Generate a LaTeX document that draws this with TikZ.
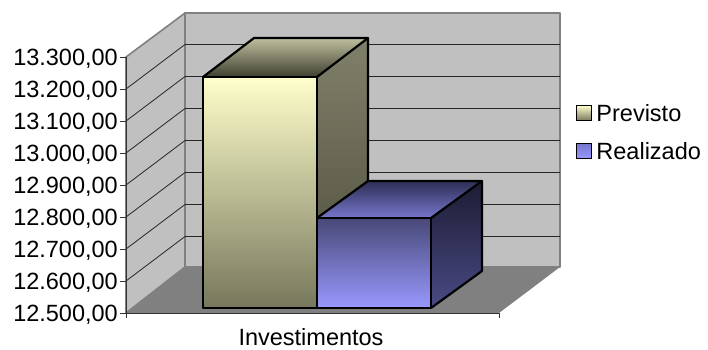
\documentclass[tikz,border=0pt]{standalone}
\usepackage{fontspec}
\setmainfont{Liberation Sans}
\usetikzlibrary{positioning}
\definecolor{wallgray}{RGB}{192,192,192}
\definecolor{edgegray}{RGB}{128,128,128}
\definecolor{prevlight}{RGB}{255,255,204}
\definecolor{prevmid}{RGB}{200,200,162}
\definecolor{prevdark}{RGB}{119,119,92}
\definecolor{prevtopback}{RGB}{191,191,159}
\definecolor{prevtopfront}{RGB}{63,63,48}
\definecolor{prevsidetop}{RGB}{128,128,106}
\definecolor{prevsidebot}{RGB}{75,75,58}
\definecolor{realtop}{RGB}{72,72,120}
\definecolor{realbot}{RGB}{153,153,255}
\definecolor{realtopback}{RGB}{46,46,85}
\definecolor{realtopfront}{RGB}{118,118,204}
\definecolor{realsidetop}{RGB}{28,28,51}
\definecolor{realsidebot}{RGB}{74,74,133}
\begin{document}
\begin{tikzpicture}[x=1pt,y=-1pt,
  wall/.style={fill=wallgray,draw=edgegray,line width=1.6pt,line join=round},
  gridline/.style={line width=0.8pt,color=black!85},
  barline/.style={line width=2.2pt,line join=round},
  lbl/.style={font=\fontsize{23.5}{28}\selectfont,inner sep=0pt,text depth=0pt}]
\useasboundingbox (0,0) rectangle (708,349);
% walls and floor
\fill[color=edgegray](126,313)--(185,267)--(560,267)--(499,313)--cycle;
\filldraw[wall](185,13)rectangle(560,267);
\filldraw[wall](126,57)--(185,13)--(185,267)--(126,313)--cycle;
\foreach \i in {1,...,7}
  \draw[gridline](126,{57+32*\i})--(185,{12.5+32*\i})--(560,{12.5+32*\i});
% axes
\draw[line width=1pt,color=black!80](126,57)--(126,318);
\draw[line width=1pt,color=black!80](126,313)--(499,313)--(499,318);
\foreach \v [count=\i from 0] in {13.300,13.200,13.100,13.000,12.900,12.800,12.700,12.600,12.500}{
  \draw[line width=1pt,color=black!80](120,{57+32*\i})--(126,{57+32*\i});
  \node[lbl,anchor=east] (tick\i) at (118,{57+32*\i}) {\v,00};
}
% Previsto
\shade[top color=prevlight,middle color=prevmid,bottom color=prevdark](203,77)rectangle(317,308);
\shade[top color=prevsidetop,bottom color=prevsidebot](317,77)--(368,38)--(368,271)--(317,308)--cycle;
\shade[top color=prevtopback,bottom color=prevtopfront](203,77)--(254,38)--(368,38)--(317,77)--cycle;
\draw[barline](203,77)rectangle(317,308);
\draw[barline](317,77)--(368,38)--(368,271)--(317,308);
\draw[barline](203,77)--(254,38)--(368,38);
% Realizado
\shade[top color=realtop,bottom color=realbot](317,218)rectangle(431,308);
\shade[top color=realsidetop,bottom color=realsidebot](431,218)--(482,181)--(482,271)--(431,308)--cycle;
\shade[top color=realtopback,bottom color=realtopfront](317,218)--(368,181)--(482,181)--(431,218)--cycle;
\draw[barline](317,218)rectangle(431,308);
\draw[barline](431,218)--(482,181)--(482,271)--(431,308);
\draw[barline](317,218)--(368,181)--(482,181);
% legend
\node[draw,line width=1.5pt,minimum size=15pt,inner sep=0pt,top color=prevlight,bottom color=prevdark] (keyprev) at (584,113) {};
\node[lbl,anchor=west,right=4pt of keyprev] (txtprev) {Previsto};
\node[draw,line width=1.5pt,minimum size=15pt,inner sep=0pt,top color=realtopfront,bottom color=realbot] (keyreal) at (584,151) {};
\node[lbl,anchor=west,right=4pt of keyreal] (txtreal) {Realizado};
\node[lbl] (xlabel) at (311,337) {Investimentos};
\end{tikzpicture}
\end{document}
